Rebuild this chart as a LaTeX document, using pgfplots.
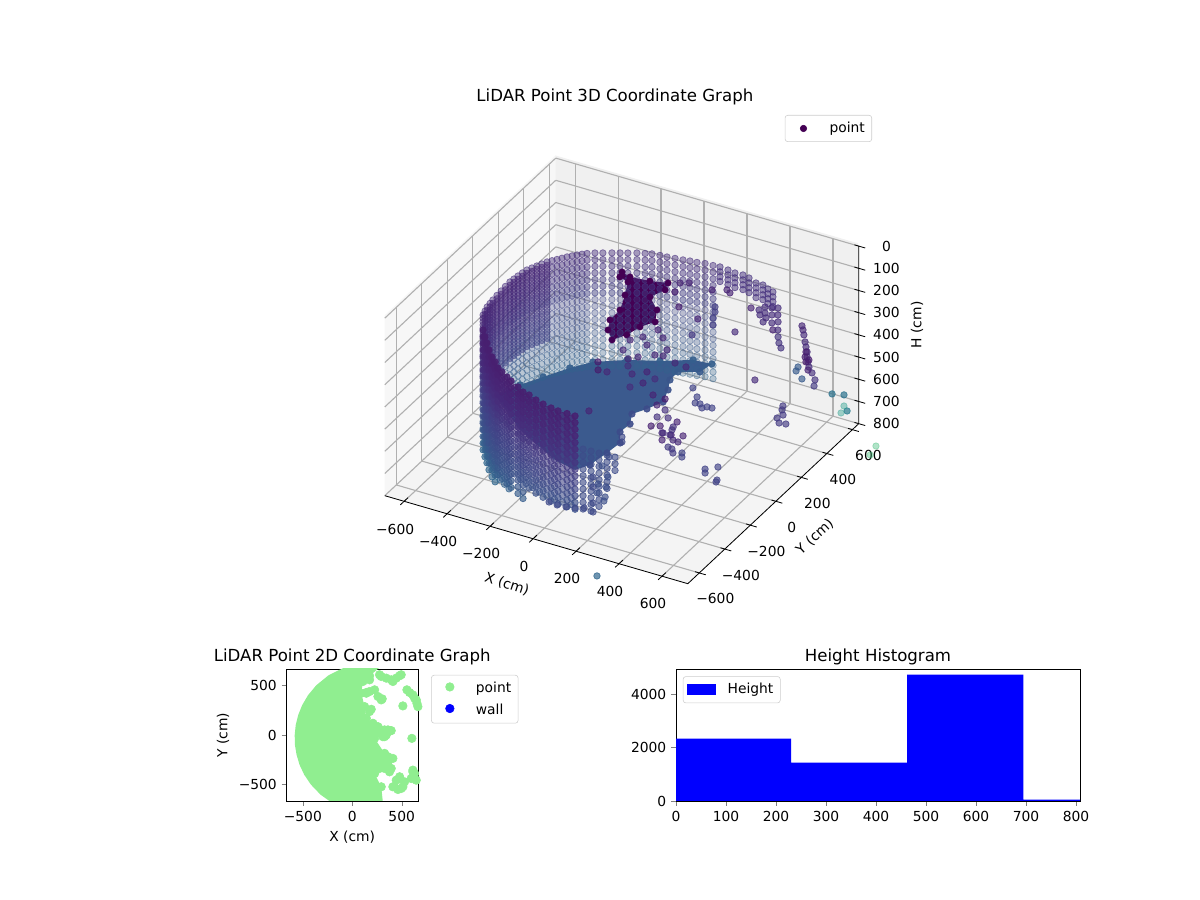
\documentclass[border=0pt]{standalone}
\usepackage{fontspec}
\setmainfont{DejaVu Sans}
\usepackage{pgfplots}
\usepackage{pgfplotstable}
\pgfplotsset{compat=1.18}
\pgfplotstableset{row sep=\\}
\definecolor{gridc}{HTML}{B0B0B0}
\definecolor{lgreen}{HTML}{90EE90}
\definecolor{vdark}{HTML}{440154}
\pgfplotstableread{x y d\\
-555 -147 0\\-563 -118 0\\-571 -88 0\\-574 -60 0\\-577 -33 0\\-580 4 0\\-582 40 0\\-584 77 0\\-585 114 0\\-582 140 0\\-579 167 0\\-575 195 0\\-570 222 0\\-560 244 0\\-550 266 0\\-540 288 0\\-529 311 0\\-516 328 0\\-503 345 0\\-490 362 0\\-477 380 0\\-463 396 0\\-449 411 0\\-434 425 0\\-419 439 0\\-393 457 0\\-365 472 0\\-333 489 0\\-304 504 0\\-276 518 0\\-244 535 0\\-213 547 0\\-187 557 0\\-153 562 0\\-122 565 0\\-88 571 0\\-54 576 0\\-25 582 0\\5 586 0\\38 594 0\\74 596 0\\
}\ringA
\pgfplotstableread{x y d\\
-555 -147 0\\-563 -118 0\\-571 -88 0\\-574 -60 0\\-577 -33 0\\-580 4 0\\-582 40 0\\-584 77 0\\-585 114 0\\-582 140 0\\-579 167 0\\-575 195 0\\-570 222 0\\-560 244 0\\-550 266 0\\-540 288 0\\-529 311 0\\
}\ringLeft
\pgfplotstableread{x y d\\
104 600 0\\144 595 0\\180 589 0\\216 591 0\\249 583 0\\293 564 0\\325 564 0\\358 548 0\\387 538 0\\
}\ringshort
\pgfplotstableread{x y d\\
-498 -243 0\\-465 -284 0\\-435 -319 0\\-401 -360 0\\-364 -399 0\\-334 -425 0\\-301 -458 0\\-272 -476 0\\-235 -499 0\\-205 -517 0\\-158 -542 0\\-121 -565 0\\-88 -573 0\\-45 -592 0\\-4 -605 0\\39 -615 0\\75 -621 0\\117 -621 0\\155 -622 0\\
}\front
\pgfplotstableread{x y d\\
-498 -243 0\\-465 -284 0\\-435 -319 0\\-401 -360 0\\-364 -399 0\\-334 -425 0\\-301 -458 0\\-272 -476 0\\-235 -499 0\\-205 -517 0\\-158 -542 0\\-121 -565 0\\
}\frontL
\pgfplotstableread{x y d\\
-498 -243 0\\-465 -284 0\\-435 -319 0\\-401 -360 0\\-364 -399 0\\-334 -425 0\\
}\frontLL
\pgfplotstableread{x y d\\
-481 -263 0\\-450 -301 0\\-418 -339 0\\-382 -379 0\\-349 -412 0\\-317 -441 0\\-286 -467 0\\-253 -487 0\\-220 -508 0\\-181 -530 0\\-139 -553 0\\-104 -569 0\\-66 -582 0\\-24 -598 0\\17 -610 0\\57 -618 0\\96 -621 0\\136 -621 0\\
}\frontB
\pgfplotstableread{x y d\\
-481 -263 0\\-450 -301 0\\-418 -339 0\\-382 -379 0\\-349 -412 0\\-317 -441 0\\-286 -467 0\\-253 -487 0\\-220 -508 0\\
}\frontBL
\pgfplotstableread{x y d\\
191 -620 0\\227 -618 0\\
}\frontRa
\pgfplotstableread{x y d\\
263 -616 0\\
}\frontRb
\pgfplotstableread{x y d\\
299 -614 0\\
}\frontRc
\pgfplotstableread{x y d\\
335 -612 0\\
}\frontRd
\pgfplotstableread{x y z m\\
-275 471 300 0\\-228 454 300 0\\-142 465 300 0\\-70 486 300 0\\-54 436 300 0\\-81 363 300 0\\-7 293 300 0\\32 213 300 0\\-3 153 300 0\\-19 77 300 0\\-53 18 300 0\\-105 74 300 0\\-136 142 300 0\\-138 224 300 0\\-177 329 300 0\\-216 418 300 0\\-264 435 300 0\\
}\darkset
\pgfplotstableread{x y z m\\
-546 127 700 .30\\-494 221 700 .30\\-433 328 700 .30\\-374 409 700 .30\\-261 485 700 .30\\-140 540 700 .30\\-26 608 700 .30\\56 617 700 .30\\44 544 700 .28\\-34 503 700 .28\\-32 437 700 .26\\-1 370 700 .25\\27 284 700 .23\\-4 209 700 .23\\-38 149 700 .23\\-7 82 700 .23\\-12 12 700 .23\\30 -58 700 .23\\21 -146 700 .23\\6 -255 700 .23\\
}\floorset
\pgfplotstableread{x y z m\\
-78 334 500 .11\\-64 241 500 .11\\-92 210 500 .11\\-144 258 500 .11\\-188 135 500 .07\\-157 84 500 .07\\-118 88 500 .11\\-66 165 500 .13\\-21 121 500 .11\\24 162 500 .1\\79 132 500 .13\\52 84 500 .1\\21 34 500 .13\\133 26 500 .1\\191 23 500 .08\\-34 -195 500 .1\\-157 335 500 .11\\-123 378 500 .11\\-96 451 500 .1\\-48 409 500 .11\\12 340 500 .11\\21 294 500 .11\\-12 285 500 .11\\90 271 500 .11\\144 266 500 .11\\185 -31 500 .1\\233 -48 500 .14\\274 -93 500 .14\\231 -107 500 .14\\321 -102 500 .1\\244 -176 500 .09\\276 -159 500 .09\\326 -141 500 .14\\395 -180 500 .1\\313 -198 500 .14\\349 -196 500 .09\\375 -225 500 .12\\
-196 792 500 .1\\-164 809 500 .1\\-180 725 500 .08\\-109 637 500 .08\\4 595 500 .1\\185 581 500 .12\\44 482 500 .16\\-3 835 500 .1\\19 821 500 .1\\-56 807 500 .1\\19 704 500 .18\\38 672 500 .18\\54 630 500 .18\\80 585 500 .18\\
248 145 500 .2\\297 95 500 .2\\313 53 500 .2\\334 56 500 .2\\356 34 500 .2\\370 50 500 .2\\392 52 500 .2\\
151 764 500 .1\\187 766 500 .13\\209 736 500 .13\\247 697 500 .13\\197 796 500 .13\\220 758 500 .13\\242 728 500 .13\\225 803 500 .13\\252 758 500 .13\\282 707 500 .13\\312 664 500 .1\\247 814 500 .13\\273 769 500 .13\\300 725 500 .13\\330 673 500 .13\\357 629 500 .15\\383 592 500 .15\\409 564 500 .15\\
542 474 500 .28\\550 445 500 .28\\601 405 500 .28\\
400 744 500 .11\\419 720 500 .11\\441 690 500 .12\\472 647 500 .12\\494 617 500 .12\\517 587 500 .12\\536 555 500 .12\\558 525 500 .12\\581 494 500 .13\\614 462 500 .14\\651 423 500 .15\\671 382 500 .17\\529 551 500 .08\\513 585 500 .08\\554 539 500 .08\\551 521 500 .08\\589 473 500 .1\\
438 311 500 .12\\636 197 500 .17\\648 170 500 .17\\671 139 500 .17\\661 109 500 .17\\687 81 500 .17\\715 87 500 .17\\
333 -162 500 .15\\345 -198 500 .14\\336 -245 500 .1\\400 -228 500 .12\\405 -284 500 .17\\424 -308 500 .17\\456 -291 500 .2\\471 -317 500 .2\\384 -279 500 .17\\309 -200 500 .12\\
599 -351 500 .2\\614 -376 500 .2\\637 -314 500 .2\\683 -399 500 .2\\687 -413 500 .2\\
212 -452 500 .23\\221 -522 500 .24\\284 -582 500 .24\\276 -645 500 .24\\315 -649 500 .24\\231 -610 500 .22\\269 -674 500 .22\\306 -704 500 .24\\350 -715 500 .24\\361 -743 500 .24\\330 -776 500 .22\\364 -833 500 .22\\317 -824 500 .22\\285 -841 500 .22\\249 -851 500 .22\\210 -855 500 .22\\170 -851 500 .22\\201 -332 500 .22\\182 -300 500 .22\\
}\iso
\pgfplotstableread{x y z m\\
765 365 500 .38\\811 381 500 .38\\883 284 500 .42\\368 -809 800 .33\\
}\tealset
\pgfplotstableread{x y z m\\
853 310 500 .55\\869 260 500 .55\\866 539 800 .68\\879 471 800 .68\\
}\greenset
\pgfplotstableread{x y\\
142 421\\226 455\\303 364\\192 259\\512 293\\553 455\\613 404\\664 286\\647 354\\293 51\\384 44\\327 -17\\603 -34\\327 -337\\377 -371\\479 -438\\428 -522\\495 -539\\613 -371\\630 -438\\394 556\\495 607\\293 590\\175 596\\243 -202\\361 -219\\243 17\\209 118\\175 556\\108 590\\327 -253\\276 -337\\108 539\\91 421\\125 286\\142 169\\243 67\\226 -34\\327 -185\\411 -236\\394 -337\\293 -286\\226 -388\\293 -522\\
276 607\\344 573\\411 539\\445 573\\479 597\\142 428\\175 438\\260 388\\293 354\\175 236\\260 84\\293 34\\327 51\\361 51\\394 44\\344 0\\310 -17\\445 -455\\479 -421\\529 -472\\411 -522\\462 -549\\512 -522\\596 -438\\630 -388\\647 -455\\613 -354\\580 428\\630 371\\654 320\\
}\blobdots
\pgfplotsset{pts/.style={only marks,scatter,scatter src=explicit,mark=*,mark size=2.35pt,forget plot,
  scatter/use mapped color={draw=mapped color,fill=mapped color}},
  lgdot/.style n args={2}{legend image code/.code={\path (0,-2pt) (0.28in,2pt);\fill[#1] (0.14in,0) circle (#2);}},
  lgrect/.style={legend image code/.code={\path (0,-2pt) (0.28in,2pt);\fill[#1,sharp corners] (0,-0.05in) rectangle (0.28in,0.05in);}}}
\tikzset{lgbox/.style={draw=black!20,rounded corners=2pt,inner xsep=3pt,inner ysep=3pt,/tikz/row sep=2.5pt,/tikz/column 1/.style={column sep=6.5pt}},
  tfont/.style={font=\fontsize{12}{14}\selectfont}}
\begin{document}
\begin{tikzpicture}
\path[use as bounding box] (0,0) rectangle (12in,9in);
% panes of the 3D box
\begin{scope}[x=0.01in,y=0.01in]
\fill[black!3] (384.8,900-315) -- (555.7,900-155) -- (555.7,900-335.7) -- (384.8,900-495.7) -- cycle;
\fill[black!6] (555.7,900-155) -- (858.7,900-243) -- (858.7,900-423.7) -- (555.7,900-335.7) -- cycle;
\fill[black!4.5] (384.8,900-495.7) -- (555.7,900-335.7) -- (858.7,900-423.7) -- (687.8,900-583.7) -- cycle;
\end{scope}
\begin{axis}[
  at={(6.211in,6.212in)},anchor=origin,
  x={(.1553pt,-.0451pt)},y={(.0922pt,.0863pt)},z={(0,.1604pt)},
  z dir=reverse,
  xmin=-690,xmax=720,ymin=-690,ymax=650,zmin=0,zmax=800,
  clip=false,
  colormap/viridis,point meta min=0,point meta max=1,
  axis line style={draw=none},
  every outer x axis line/.append style={draw=none},
  every outer y axis line/.append style={draw=none},
  every outer z axis line/.append style={draw=none},
  grid=major,major grid style={gridc,line width=.8pt},
  xtick={-600,-400,-200,0,200,400,600},
  xticklabels={−600,−400,−200,0,200,400,600},
  ytick={-600,-400,-200,0,200,400,600},
  yticklabels={−600,−400,−200,0,200,400,600},
  ztick={0,100,...,800},
  zticklabels={0,100,200,300,400,500,600,700,800},
  ztick pos=right,zticklabel pos=right,
  major tick length=0pt,tick style={draw=none},
  xticklabel style={anchor=center,xshift=-6.5pt,yshift=-20pt},
  yticklabel style={anchor=center,xshift=11.6pt,yshift=-18.8pt},
  zticklabel style={anchor=center,xshift=20pt},
  xlabel={X (cm)},ylabel={Y (cm)},zlabel={H (cm)},
  xlabel style={at={(axis cs:79,-1028,800)},anchor=center,rotate=-18},
  ylabel style={at={(axis cs:994,-155,800)},anchor=center,rotate=42},
  zlabel style={at={(axis cs:552,1389,800)},anchor=center},
  title={LiDAR Point 3D Coordinate Graph},
  title style={tfont,xshift=-5pt,yshift=28.9pt},
]
\draw[black,line width=.6pt] (axis cs:-690,-690,800) -- (axis cs:720,-690,800) -- (axis cs:720,650,800) -- (axis cs:720,650,0);
\pgfplotsinvokeforeach{-600,-400,-200,0,200,400,600}{
\draw[black,line width=.6pt] (axis cs:#1,-720,800) -- (axis cs:#1,-660,800);
\draw[black,line width=.6pt] (axis cs:700,#1,800) -- (axis cs:750,#1,800);
}
\pgfplotsinvokeforeach{0,100,200,300,400,500,600,700,800}{
\draw[black,line width=.6pt] (axis cs:700,650,#1) -- (axis cs:750,650,#1);
}
% back wall
\foreach \h/\m in {750/.32,720/.31,690/.30,660/.29,630/.275,600/.265,570/.25,540/.24,510/.23,480/.22,450/.205}{
\addplot3[pts,mark options={fill opacity=.3,draw opacity=.5,line width=.5pt}] table[x=x,y=y,z expr=\h,meta expr=\m] {\ringA};
}
\foreach \h/\m in {420/.195,390/.18,360/.17,330/.155,300/.145,270/.135,240/.13}{
\addplot3[pts,mark options={fill opacity=.45,draw opacity=.6,line width=.5pt}] table[x=x,y=y,z expr=\h,meta expr=\m] {\ringA};
}
\foreach \h/\m in {585/.2,555/.19,525/.18,495/.17,465/.16,435/.15,405/.14,375/.13,345/.12,315/.115,285/.11,255/.105}{
\addplot3[pts,mark options={fill opacity=.5,draw opacity=.5,line width=.5pt}] table[x=x,y=y,z expr=\h,meta expr=\m] {\ringLeft};
}
\foreach \h in {306,284,262,240}{
\addplot3[pts,mark options={fill opacity=.5,draw opacity=.7,line width=.5pt}] table[x=x,y=y,z expr=\h,meta expr=.14] {\ringshort};
}
% dense body seen behind the near wall
\addplot3[no marks,forget plot,fill={rgb,255:red,59;green,90;blue,142},draw=none] coordinates {
(-546,127,700)(-494,221,700)(-433,328,700)(-374,409,700)(-261,485,700)(-140,540,700)(-26,608,700)(56,617,700)(44,544,700)(-34,503,700)(-32,437,700)(-1,370,700)(27,284,700)(-4,209,700)(-38,149,700)(-7,82,700)(-12,12,700)(30,-58,700)(21,-146,700)(6,-255,700)(-28,-314,700)(-137,-288,700)(-375,-161,700)(-597,17,700)
} --cycle;
\addplot3[pts,mark options={fill opacity=.9,draw opacity=.9,line width=.5pt}] table[x=x,y=y,z=z,meta=m] {\floorset};
% dark cluster
\addplot3[no marks,forget plot,fill=vdark,draw=none] coordinates {
(-275,471,300)(-228,454,300)(-142,465,300)(-70,486,300)(-54,436,300)(-81,363,300)(-7,293,300)(32,213,300)(-3,153,300)(-19,77,300)(-53,18,300)(-105,74,300)(-136,142,300)(-138,224,300)(-177,329,300)(-216,418,300)(-264,435,300)
} --cycle;
\addplot3[pts,mark options={line width=.2pt}] table[x=x,y=y,z=z,meta=m] {\darkset};
% near wall, inner layer
\foreach \h/\m in {735/.31,705/.29,675/.27}{
\addplot3[pts,mark options={fill opacity=.55,draw opacity=.75,line width=.5pt}] table[x=x,y=y,z expr=\h,meta expr=\m] {\frontBL};
}
\foreach \h/\m in {645/.25,615/.23,585/.215,555/.2,525/.19,495/.175,465/.16,435/.15,405/.13,375/.12,345/.11,315/.1,285/.09,255/.085}{
\addplot3[pts,mark options={fill opacity=.55,draw opacity=.75,line width=.5pt}] table[x=x,y=y,z expr=\h,meta expr=\m] {\frontB};
}
% near wall, outer layer
\addplot3[pts,mark options={fill opacity=.65,draw opacity=.8,line width=.5pt}] table[x=x,y=y,z expr=780,meta expr=.33] {\frontLL};
\foreach \h/\m in {750/.31}{
\addplot3[pts,mark options={fill opacity=.65,draw opacity=.8,line width=.5pt}] table[x=x,y=y,z expr=\h,meta expr=\m] {\frontLL};
}
\foreach \h/\m in {720/.29,690/.27}{
\addplot3[pts,mark options={fill opacity=.65,draw opacity=.8,line width=.5pt}] table[x=x,y=y,z expr=\h,meta expr=\m] {\frontL};
}
\foreach \h/\m in {660/.25,630/.24,600/.225,570/.21,540/.2,510/.185,480/.17}{
\addplot3[pts,mark options={fill opacity=.65,draw opacity=.8,line width=.5pt}] table[x=x,y=y,z expr=\h,meta expr=\m] {\front};
}
\foreach \h/\m in {450/.155,420/.14,390/.125,360/.115,330/.105,300/.1,270/.09,240/.085}{
\addplot3[pts,mark options={fill opacity=.85,draw opacity=.9,line width=.5pt}] table[x=x,y=y,z expr=\h,meta expr=\m] {\front};
}
% near wall, right-hand end
\foreach \h in {650,620,590,560,530,500,470,440,410,380}{
\addplot3[pts,mark options={fill opacity=.6,draw opacity=.8,line width=.5pt}] table[x=x,y=y,z expr=\h,meta expr=.23] {\frontRa};
}
\foreach \h in {620,590,560,530,500,470,440,410,380}{
\addplot3[pts,mark options={fill opacity=.6,draw opacity=.8,line width=.5pt}] table[x=x,y=y,z expr=\h,meta expr=.23] {\frontRb};
}
\foreach \h in {530,500,470,440,410,380}{
\addplot3[pts,mark options={fill opacity=.6,draw opacity=.8,line width=.5pt}] table[x=x,y=y,z expr=\h,meta expr=.23] {\frontRc};
}
\foreach \h in {440,410,380}{
\addplot3[pts,mark options={fill opacity=.6,draw opacity=.8,line width=.5pt}] table[x=x,y=y,z expr=\h,meta expr=.23] {\frontRd};
}
% isolated returns
\addplot3[pts,mark options={fill opacity=.65,draw opacity=.8,line width=.5pt}] table[x=x,y=y,z=z,meta=m] {\iso};
\addplot3[pts,mark options={fill opacity=.7,draw opacity=.8,line width=.5pt}] table[x=x,y=y,z=z,meta=m] {\tealset};
\addplot3[pts,mark options={fill opacity=.4,draw opacity=.4,line width=.5pt}] table[x=x,y=y,z=z,meta=m] {\greenset};
\end{axis}
% legend of the 3D panel
\begin{axis}[
  at={(8.72in,7.85in)},anchor=north east,scale only axis,width=1in,height=.2in,
  hide axis,xmin=0,xmax=1,ymin=0,ymax=1,
  legend style={lgbox,at={(1,1)},anchor=north east},
  legend cell align=left,
]
\addlegendimage{lgdot={vdark}{2.35pt}}
\addlegendentry{point}
\end{axis}
% 2D panel
\begin{axis}[
  at={(2.865in,0.99in)},anchor=south west,scale only axis,width=1.315in,height=1.32in,
  clip=true,
  xmin=-665,xmax=665,ymin=-665,ymax=665,
  xtick={-500,0,500},xticklabels={−500,0,500},
  ytick={-500,0,500},yticklabels={−500,0,500},
  tick align=outside,tick pos=left,major tick length=3.5pt,
  xlabel={X (cm)},ylabel={Y (cm)},
  title={LiDAR Point 2D Coordinate Graph},
  title style={tfont,yshift=-6.5pt},
  legend style={lgbox,at={(1.1,.955)},anchor=north west},
  legend cell align=left,
]
\addplot[no marks,forget plot,fill=lgreen,draw=none] coordinates {
(-81,680)(276,680)(108,539)(91,421)(125,286)(142,169)(243,67)(226,-34)(327,-185)(411,-236)(394,-337)(293,-286)(226,-388)(293,-522)(310,-680)(-210,-680)(-322,-600)(-418,-500)(-486,-400)(-533,-300)(-563,-200)(-580,-100)(-582,0)(-572,100)(-547,200)(-507,300)(-448,400)(-365,500)(-242,600)
} --cycle;
\addplot[only marks,mark=*,mark size=3.1pt,lgreen,forget plot] table[x=x,y=y] {\blobdots};
\addlegendimage{lgdot={lgreen}{3.1pt}}
\addlegendentry{point}
\addlegendimage{lgdot={blue}{3.1pt}}
\addlegendentry{wall}
\end{axis}
% histogram
\begin{axis}[
  at={(6.76in,0.99in)},anchor=south west,scale only axis,width=4.04in,height=1.32in,
  xmin=0,xmax=808,ymin=0,ymax=4935,
  xtick={0,100,...,800},xticklabels={0,100,200,300,400,500,600,700,800},
  ytick={0,2000,4000},yticklabels={0,2000,4000},
  tick align=outside,tick pos=left,major tick length=3.5pt,
  title={Height Histogram},
  title style={tfont,yshift=-6.5pt},
  legend style={lgbox,at={(.017,.945)},anchor=north west},
  legend cell align=left,
]
\addplot[ybar interval,fill=blue,draw=none,forget plot] coordinates {(0,2330)(230,1432)(462.4,4722)(694.6,50)(808,50)};
\addlegendimage{lgrect=blue}
\addlegendentry{Height}
\end{axis}
\end{tikzpicture}
\end{document}
